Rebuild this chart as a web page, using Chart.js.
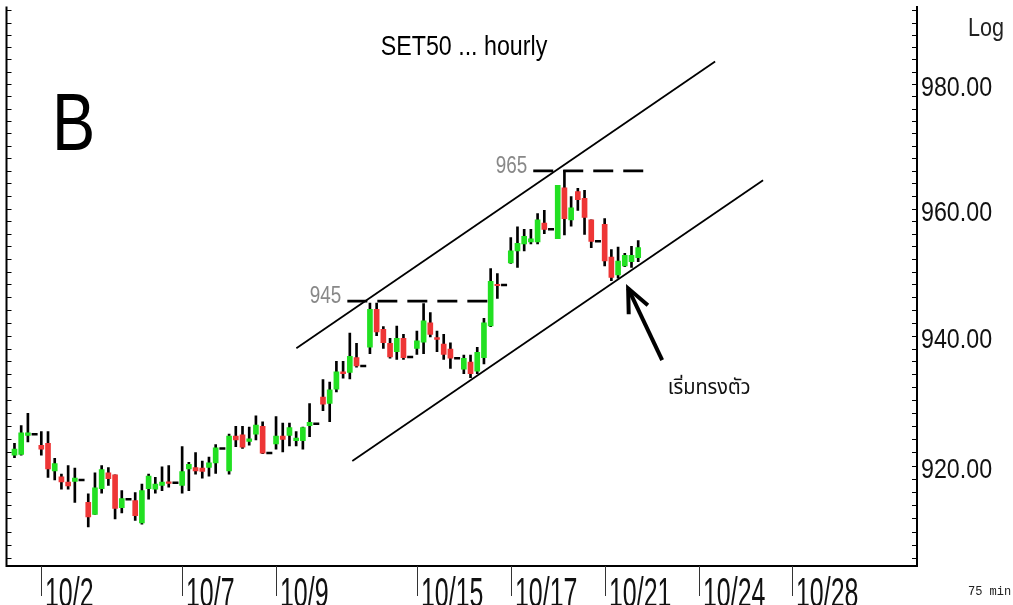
<!DOCTYPE html>
<html><head><meta charset="utf-8">
<script src="https://cdn.jsdelivr.net/npm/chart.js@4.4.1/dist/chart.umd.min.js"></script>
<style>html,body{margin:0;padding:0;background:#fff;}canvas{display:block;}</style>
</head><body>
<canvas id="c" width="1013" height="605"></canvas>
<script>
// ---- data (SET50, 75-min bars) ----
const candleOpen  = [921.6,921.7,924.6,924.8,923.1,923.4,919.2,918.3,917.5,917.6,917.8,914.4,912.6,916.5,918.9,918.6,913.6,914.9,914.7,911.3,916.5,916.4,917.0,917.5,917.4,917.0,919.5,919.7,919.6,919.7,920.4,922.6,919.2,924.5,924.7,923.7,924.8,926.0,921.9,923.3,924.5,924.6,923.8,923.8,926.1,926.4,930.5,929.5,931.7,934.4,934.3,936.6,935.3,938.2,944.1,941.0,938.8,937.5,939.6,936.7,938.0,939.0,942.0,939.7,938.7,937.9,936.5,934.8,935.9,934.5,936.6,941.5,948.0,947.9,951.4,953.3,954.4,954.7,954.7,957.7,956.7,955.2,963.3,958.2,962.7,961.6,958.2,954.8,957.5,952.3,949.5,950.9,951.6,952.2];
const candleHigh  = [923.4,926.1,928.0,924.8,925.2,925.2,921.1,918.7,920.0,919.6,917.8,915.7,918.9,920.0,919.7,918.6,916.2,914.9,915.9,917.2,918.7,918.2,919.8,920.0,917.4,922.9,920.5,922.0,920.7,921.3,923.2,922.6,924.8,926.0,926.0,925.9,927.6,926.7,921.9,927.5,926.5,926.5,925.2,925.9,929.5,926.4,933.2,932.8,936.0,936.0,940.4,938.8,935.3,945.1,945.1,941.4,939.6,941.5,940.2,936.7,940.7,945.0,943.6,940.7,940.2,938.9,936.5,937.0,937.0,938.2,942.7,950.5,949.7,947.9,955.4,957.1,956.7,956.7,959.2,959.7,956.7,963.7,966.1,961.9,963.2,962.9,958.2,954.8,958.4,953.5,953.9,952.9,954.0,954.9];
const candleLow   = [921.2,921.6,923.6,924.8,921.6,918.2,917.8,916.4,916.4,914.4,917.8,910.7,912.6,915.8,917.0,911.9,912.8,914.9,911.7,911.1,914.9,915.8,916.2,916.7,917.4,915.8,916.2,918.7,918.1,918.4,918.8,922.6,918.7,922.9,922.6,923.1,923.9,921.8,921.9,922.5,922.1,923.0,923.0,922.5,924.4,926.4,928.4,926.7,931.3,933.4,933.3,935.1,935.3,937.2,940.0,938.0,936.5,936.3,936.3,936.7,937.1,937.2,939.8,937.5,936.3,934.9,936.5,934.1,933.5,934.1,935.6,941.4,945.8,947.9,951.3,950.7,953.3,954.4,954.4,956.0,956.7,955.2,955.8,957.2,959.7,955.9,953.8,954.8,950.9,948.6,949.0,950.8,950.7,951.6];
const candleClose = [922.5,925.0,925.0,924.8,922.5,919.5,920.3,917.5,916.9,918.1,917.8,912.2,916.6,919.4,918.0,913.5,915.0,914.9,912.4,916.2,918.4,917.2,917.5,917.3,917.4,919.1,920.2,919.2,919.1,920.4,922.7,922.6,924.5,923.9,922.8,924.1,926.2,921.9,921.9,924.5,924.0,925.8,924.2,925.8,926.6,926.4,929.4,931.6,934.4,934.1,936.8,935.3,935.3,944.1,940.6,938.9,936.7,939.6,936.6,936.7,939.2,942.3,940.2,939.4,937.1,936.5,936.5,936.5,934.1,937.4,942.0,948.5,947.8,947.9,953.3,954.5,955.6,955.2,958.2,956.7,956.7,963.7,958.4,960.1,961.4,958.6,954.8,954.8,951.7,949.1,951.7,952.6,952.6,953.8];

// day ticks (bar slot of the first bar of each day)
const dayTickLabels = ['10/2','10/7','10/9','10/15','10/17','10/21','10/24','10/28'];
const dayTickSlots  = [5, 26, 40, 61, 75, 89, 103, 117];

// price axis
const priceLabelStep = 20;
const priceMinorStep = 2;
const priceTickFirst = 906, priceTickLast = 992;
const xRange = [-0.19, 135.57];
const yRange = [904.83, 992.65];

// drawn annotations (in bar-slot / price units)
const channelUpperX = [43.03, 105.47], channelUpperY = [938.05, 983.66];
const channelLowerX = [51.37, 112.62], channelLowerY = [920.69, 964.49];
const levelLabels = ['945', '965'];
const levelValues = [945.4, 966.0];
const levelStart  = [50.63, 78.35];
const levelEnd    = [71.94, 95.34];
const arrowTail = {x: 97.57, y: 936.2};
const arrowTip  = {x: 92.5,  y: 947.4};
const noteText = 'เริ่มทรงตัว';
const noteAt = {x: 98.4, y: 932.0};
const titleText = 'SET50 ... hourly';

// ---- build ----
const SANS = '"Liberation Sans Narrow","Liberation Sans",Arial,sans-serif';
const UP = '#22e022', DOWN = '#ee3636';
const slots = candleOpen.map((_, i) => i + 1);
const flat = i => candleHigh[i] === candleLow[i];

const wickData = [], bodyData = [], bodyColors = [], dashData = [];
slots.forEach((s, i) => {
  if (flat(i)) { dashData.push({x: s, y: candleClose[i]}); return; }
  wickData.push({x: s, y: [candleLow[i], candleHigh[i]]});
  bodyData.push({x: s, y: [Math.min(candleOpen[i], candleClose[i]), Math.max(candleOpen[i], candleClose[i])]});
  bodyColors.push(candleClose[i] >= candleOpen[i] ? UP : DOWN);
});
const seg = (xs, ys) => xs.map((x, k) => ({x, y: ys[k]}));
const lineDs = (data, dash, w) => ({type: 'line', data, borderColor: '#000', borderWidth: w, borderDash: dash, pointRadius: 0, fill: false, order: 0, tension: 0});

const datasets = [
  {type: 'bar', data: wickData, backgroundColor: '#000', barThickness: 2, grouped: false, order: 3},
  {type: 'bar', data: bodyData, backgroundColor: bodyColors, barThickness: 5, grouped: false, minBarLength: 1.5, order: 2},
  {type: 'line', data: dashData, showLine: false, pointStyle: 'line', pointRadius: 3, borderColor: '#000', borderWidth: 2.5, order: 1},
  lineDs(seg(channelUpperX, channelUpperY), [], 1.8),
  lineDs(seg(channelLowerX, channelLowerY), [], 1.8),
  ...levelValues.map((v, k) => lineDs(seg([levelStart[k], levelEnd[k]], [v, v]), [20, 10], 2.6))
];

// text with horizontal condensing (narrow look)
function txt(ctx, s, x, y, size, sx, sy, align, color, family) {
  ctx.save();
  ctx.translate(x, y); ctx.scale(sx, sy);
  ctx.font = size + 'px ' + (family || SANS);
  ctx.textAlign = align; ctx.fillStyle = color;
  ctx.fillText(s, 0, 0);
  ctx.restore();
}

const decor = {
  id: 'decor',
  afterDraw(chart) {
    const {ctx, chartArea: a, scales: {x, y}} = chart;
    ctx.save();
    ctx.textBaseline = 'alphabetic';
    // left frame line
    ctx.strokeStyle = '#000'; ctx.lineWidth = 2;
    ctx.beginPath(); ctx.moveTo(a.left, a.top); ctx.lineTo(a.left, a.bottom + 1); ctx.stroke();
    // inner tick marks on both frame sides
    ctx.lineWidth = 1.2;
    y.ticks.forEach(t => {
      const py = Math.round(y.getPixelForValue(t.value)) + 0.5;
      ctx.beginPath(); ctx.moveTo(a.right - 5, py); ctx.lineTo(a.right, py);
      ctx.moveTo(a.left, py); ctx.lineTo(a.left + 5, py); ctx.stroke();
    });
    // price labels
    y.ticks.forEach(t => {
      if (t.value % priceLabelStep !== 0) return;
      const py = y.getPixelForValue(t.value);
      txt(ctx, t.value.toFixed(2), a.right + 4, py + 12, 28, 0.83, 1, 'left', '#111');
    });
    // day separators and labels
    ctx.strokeStyle = '#333'; ctx.lineWidth = 1;
    x.ticks.forEach((t, k) => {
      const px = Math.round(x.getPixelForValue(t.value)) + 0.5;
      ctx.beginPath(); ctx.moveTo(px, a.bottom); ctx.lineTo(px, a.bottom + 30); ctx.stroke();
      txt(ctx, dayTickLabels[k], px + 3.5, 607, 29, 0.86, 1.45, 'left', '#111');
    });
    // level labels
    levelLabels.forEach((lab, k) => {
      txt(ctx, lab, x.getPixelForValue(levelStart[k]) - 6, y.getPixelForValue(levelValues[k]) + 2, 23, 0.82, 1, 'right', '#888');
    });
    // arrow
    const tx = x.getPixelForValue(arrowTip.x), ty = y.getPixelForValue(arrowTip.y);
    const fx = x.getPixelForValue(arrowTail.x), fy = y.getPixelForValue(arrowTail.y);
    const ang = Math.atan2(fy - ty, fx - tx);
    ctx.strokeStyle = '#000'; ctx.lineWidth = 4; ctx.lineCap = 'butt';
    ctx.beginPath(); ctx.moveTo(fx, fy); ctx.lineTo(tx, ty); ctx.stroke();
    ctx.beginPath();
    ctx.moveTo(tx + 26 * Math.cos(ang - 0.42), ty + 26 * Math.sin(ang - 0.42));
    ctx.lineTo(tx, ty);
    ctx.lineTo(tx + 26 * Math.cos(ang + 0.42), ty + 26 * Math.sin(ang + 0.42));
    ctx.stroke();
    // note
    txt(ctx, noteText, x.getPixelForValue(noteAt.x), y.getPixelForValue(noteAt.y) + 7, 21, 0.95, 1, 'left', '#111',
        '"Noto Sans Thai","Noto Sans","DejaVu Sans",sans-serif');
    // title, big B, Log, interval
    txt(ctx, titleText, 464, 55, 28, 0.83, 1, 'center', '#000');
    txt(ctx, 'B', 52, 150, 81, 0.8, 1, 'left', '#000');
    txt(ctx, 'Log', 968, 36, 26, 0.83, 1, 'left', '#222');
    txt(ctx, '75 min', 968, 595, 12, 1, 1, 'left', '#222', '"Liberation Mono",monospace');
    ctx.restore();
  }
};

new Chart(document.getElementById('c'), {
  type: 'bar',
  data: {datasets},
  options: {
    responsive: false, animation: false, devicePixelRatio: 1,
    layout: {padding: {left: 6, top: 6, right: 0, bottom: 0}},
    plugins: {legend: {display: false}, tooltip: {enabled: false}},
    scales: {
      x: {
        type: 'linear', min: xRange[0], max: xRange[1], offset: false,
        afterBuildTicks: sc => { sc.ticks = dayTickSlots.map(v => ({value: v})); },
        ticks: {display: false, autoSkip: false},
        grid: {display: false, drawTicks: false},
        border: {display: true, color: '#000', width: 2},
        afterFit: sc => { sc.height = 39; sc.paddingLeft = 0; sc.paddingRight = 0; }
      },
      y: {
        type: 'logarithmic', position: 'right', min: yRange[0], max: yRange[1],
        afterBuildTicks: sc => {
          const t = [];
          for (let v = priceTickFirst; v <= priceTickLast; v += priceMinorStep) t.push({value: v});
          sc.ticks = t;
        },
        ticks: {display: false, autoSkip: false},
        grid: {display: false, drawTicks: false},
        border: {display: true, color: '#000', width: 2},
        afterFit: sc => { sc.width = 96; sc.paddingTop = 0; sc.paddingBottom = 0; }
      }
    }
  },
  plugins: [decor]
});
</script>
</body></html>
